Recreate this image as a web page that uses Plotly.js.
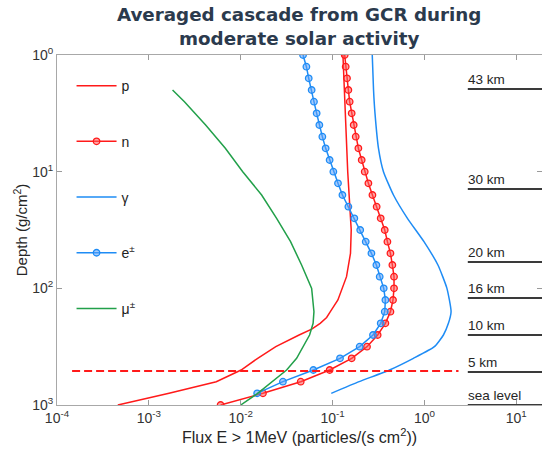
<!DOCTYPE html>
<html>
<head>
<meta charset="utf-8">
<script src="https://cdn.plot.ly/plotly-3.0.1.min.js"></script>
<style>html,body{margin:0;padding:0;background:#fff}#chart{width:542px;height:452px}</style>
</head>
<body>
<div id="chart"></div>
<script>
// Depth grid (g/cm^2) used by the marked series
var depthGrid = [1, 1.259, 1.585, 1.995, 2.512, 3.162, 3.981, 5.012, 6.31, 7.943, 10, 12.59, 15.85, 19.95, 25.12, 31.62, 39.81, 50.12, 63.1, 79.43, 100, 125.9, 158.5, 199.5, 251.2, 316.2, 398.1, 501.2, 631, 794.3, 1000];

// neutrons (flux, particles/(s cm^2))
var nFlux = [0.1355, 0.139, 0.1436, 0.1486, 0.1535, 0.1614, 0.1698, 0.1786, 0.191, 0.2075, 0.2239, 0.2455, 0.2716, 0.302, 0.3342, 0.3698, 0.3954, 0.4266, 0.4477, 0.4667, 0.4667, 0.455, 0.4266, 0.3758, 0.3097, 0.2371, 0.1614, 0.0929, 0.045, 0.01746, 0.00604];
// electrons/positrons (first 30 depths)
var eFlux = [0.0477, 0.0519, 0.055, 0.0592, 0.0627, 0.0671, 0.0718, 0.0774, 0.0841, 0.0929, 0.102, 0.1146, 0.128, 0.1486, 0.1726, 0.2, 0.2296, 0.2649, 0.2999, 0.3258, 0.3606, 0.3758, 0.3698, 0.3342, 0.2754, 0.1972, 0.1205, 0.0618, 0.0288, 0.0151];
var eDepth = depthGrid.slice(0, 30);

// protons
var pDepth = [1, 3.162, 10, 31.62, 50.12, 79.43, 100, 125.9, 158.5, 177.8, 199.5, 223.9, 251.2, 281.8, 316.2, 398.1, 501.2, 631, 794.3, 1000];
var pFlux = [0.1297, 0.1371, 0.1462, 0.1596, 0.1567, 0.1419, 0.1285, 0.1143, 0.0946, 0.0862, 0.0733, 0.0593, 0.0432, 0.0327, 0.0241, 0.0153, 0.0101, 0.00542, 0.00166, 0.000459];

// gammas
var gDepth = [1, 1.995, 3.162, 6.31, 10, 15.85, 25.12, 39.81, 63.1, 100, 158.5, 199.5, 251.2, 316.2, 398.1, 501.2, 631, 794.3];
var gFlux = [0.2704, 0.2793, 0.2897, 0.3162, 0.3581, 0.4603, 0.6531, 0.9886, 1.403, 1.758, 1.95, 1.824, 1.61, 1.285, 0.7586, 0.4169, 0.195, 0.0968];

// muons
var muDepth = [1.995, 2.512, 3.981, 6.31, 10, 15.85, 25.12, 39.81, 63.1, 100, 158.5, 199.5, 251.2, 316.2, 398.1, 501.2, 631, 794.3, 1000];
var muFlux = [0.001811, 0.00244, 0.00415, 0.0068, 0.01052, 0.0169, 0.0246, 0.0349, 0.046, 0.0592, 0.0627, 0.0614, 0.0562, 0.0478, 0.0406, 0.0316, 0.0223, 0.0153, 0.01];

// 5 km reference (dashed)
var refFlux = [0.000146, 2.35];
var refDepth = [510, 510];

// altitude markers
var altLabels = ["43 km", "30 km", "20 km", "16 km", "10 km", "5 km", "sea level"];
var altDepths = [1.96, 14.1, 59.4, 121, 251, 521, 1000];

var xTickVals = [1e-4, 1e-3, 1e-2, 1e-1, 1, 10];
var xTickText = ['10<sup>-4</sup>', '10<sup>-3</sup>', '10<sup>-2</sup>', '10<sup>-1</sup>', '10<sup>0</sup>', '10<sup>1</sup>'];
var yTickVals = [1, 10, 100, 1000];
var yTickText = ['10<sup>0</sup>', '10<sup>1</sup>', '10<sup>2</sup>', '10<sup>3</sup>'];

var RED = '#ff1a1a', BLUE = '#1e8cf5', GREEN = '#22a04a';
var font = 'Liberation Sans, Arial, sans-serif';

var traces = [
  {x: pFlux, y: pDepth, name: 'p', mode: 'lines', legendgroup: 'a',
   line: {color: RED, width: 1.5}},
  {x: nFlux, y: depthGrid, name: 'n', mode: 'lines+markers', legendgroup: 'b',
   line: {color: RED, width: 1.5},
   marker: {symbol: 'circle', size: 6.5, color: 'rgba(255,90,90,0.55)', line: {color: RED, width: 1.3}}},
  {x: gFlux, y: gDepth, name: '\u03b3', mode: 'lines', legendgroup: 'c',
   line: {color: BLUE, width: 1.5, shape: 'spline', smoothing: 0.5}},
  {x: eFlux, y: eDepth, name: 'e<sup>\u00b1</sup>', mode: 'lines+markers', legendgroup: 'd',
   line: {color: BLUE, width: 1.5},
   marker: {symbol: 'circle', size: 6.5, color: 'rgba(90,160,250,0.55)', line: {color: BLUE, width: 1.3}}},
  {x: muFlux, y: muDepth, name: '\u03bc<sup>\u00b1</sup>', mode: 'lines', legendgroup: 'e',
   line: {color: GREEN, width: 1.5}},
  {x: refFlux, y: refDepth, mode: 'lines', showlegend: false, hoverinfo: 'skip',
   line: {color: RED, width: 2, dash: '8px,4px'}}
];

var shapes = [], annotations = [];
for (var i = 0; i < altLabels.length; i++) {
  shapes.push({type: 'line', xref: 'paper', yref: 'y', x0: 0.847, x1: 1.0,
    y0: altDepths[i], y1: altDepths[i], line: {color: '#3a3a3a', width: 2}, layer: 'above'});
  annotations.push({xref: 'paper', yref: 'y', x: 0.843, y: Math.log10(altDepths[i]),
    xanchor: 'left', yanchor: 'bottom', yshift: 0, showarrow: false, text: altLabels[i],
    font: {family: font, size: 13.5, color: '#262626'}});
}

var layout = {
  width: 542, height: 452,
  margin: {l: 57, r: 0, t: 55, b: 47},
  paper_bgcolor: '#fff', plot_bgcolor: '#fff',
  title: {text: '<b>Averaged cascade from GCR during<br>moderate solar activity</b>',
    x: 0.552, xanchor: 'center', y: 0.953, yanchor: 'top',
    font: {family: 'DejaVu Sans, sans-serif', size: 18.3, color: '#2b3a4d'}},
  xaxis: {type: 'log', range: [-4, 1.28], tickvals: xTickVals, ticktext: xTickText,
    ticks: 'inside', ticklen: 5, tickcolor: '#9a9a9a', showline: true, linecolor: '#a8a8a8',
    linewidth: 1, mirror: 'ticks', showgrid: false, zeroline: false,
    tickfont: {family: font, size: 14, color: '#333'},
    title: {text: 'Flux E > 1MeV (particles/(s cm<sup>2</sup>))', standoff: 4,
      font: {family: font, size: 16, color: '#262626'}}},
  yaxis: {type: 'log', range: [3, 0], tickvals: yTickVals, ticktext: yTickText,
    ticks: 'inside', ticklen: 5, tickcolor: '#9a9a9a', showline: true, linecolor: '#a8a8a8',
    linewidth: 1, mirror: 'ticks', showgrid: false, zeroline: false,
    tickfont: {family: font, size: 14, color: '#333'},
    title: {text: 'Depth (g/cm<sup>2</sup>)', standoff: 0,
      font: {family: font, size: 15, color: '#262626'}}},
  showlegend: true,
  legend: {x: 0.030, xanchor: 'left', y: 0.957, yanchor: 'top', bgcolor: 'rgba(0,0,0,0)',
    borderwidth: 0, itemwidth: 40, tracegroupgap: 34.5, traceorder: 'grouped',
    font: {family: font, size: 14, color: '#222'}},
  shapes: shapes,
  annotations: annotations
};

Plotly.newPlot('chart', traces, layout, {displayModeBar: false, staticPlot: true});
</script>
</body>
</html>
